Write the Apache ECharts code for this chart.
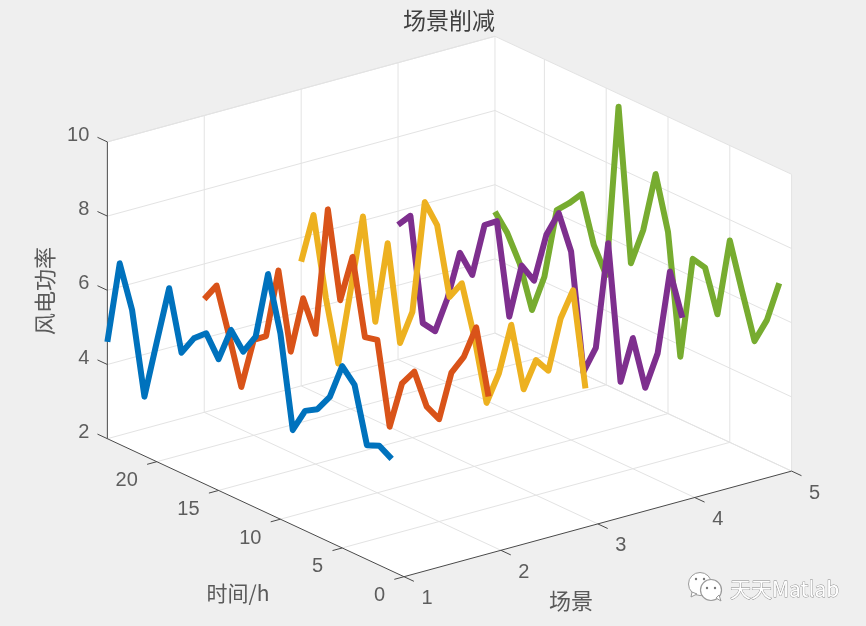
<!DOCTYPE html>
<html>
<head>
<meta charset="utf-8">
<style>html,body{margin:0;padding:0;background:#efefef}#c{width:866px;height:626px}</style>
<script src="https://cdn.jsdelivr.net/npm/echarts@6/dist/echarts.min.js"></script>
</head>
<body>
<div id="c"></div>
<script>
// ---------- data ----------
const chartTitle = '场景削减';
const sceneName = '场景';
const timeName = '时间/h';
const powerName = '风电功率';
const hours = [1,2,3,4,5,6,7,8,9,10,11,12,13,14,15,16,17,18,19,20,21,22,23,24];
const scene1 = [5.02,5.22,5.08,6.55,6.90,5.92,5.43,5.23,4.56,7.01,8.45,6.61,6.05,6.48,5.54,6.08,5.79,5.25,6.83,5.23,3.60,5.78,6.88,4.61];
const scene2 = [5.99,7.70,6.75,6.17,4.76,4.94,5.73,5.26,3.94,6.12,6.04,8.05,6.73,9.02,5.51,6.31,4.72,6.75,4.83,4.57,3.15,4.39,5.57,5.05];
const scene3 = [5.50,7.99,7.08,5.51,5.64,4.70,6.28,4.82,3.87,5.50,6.78,6.26,8.04,8.50,5.39,4.40,6.93,4.66,7.34,5.20,3.07,4.68,6.76,5.35];
const scene4 = [6.69,7.78,5.42,4.34,5.52,4.19,7.77,4.79,3.99,7.08,7.96,7.22,5.83,6.08,4.55,6.97,6.71,5.21,5.65,4.27,3.23,3.29,6.03,5.63];
const scene5 = [6.91,5.76,5.04,6.22,7.44,5.30,6.40,6.48,3.69,6.90,8.30,6.64,5.59,9.65,4.96,5.61,6.83,6.43,6.09,4.14,3.09,4.19,4.85,5.27];
const sceneTicks = [1,2,3,4,5];
const timeTicks = [0,5,10,15,20];
const powerTicks = [2,4,6,8,10];
const sceneSeries = [scene5, scene4, scene3, scene2, scene1];
const sceneIds = [5,4,3,2,1];
const sceneColors = ['#77AC30','#7E2F8E','#EDB120','#D95319','#0072BD'];

// ---------- orthographic view of the 3-D box ----------
const view = {ox:404, oy:576.7, sx:96.9, sy:-26.4, tx:-12.36, ty:-5.75, zy:-37.1};
const S0=1,S1=5,T0=0,T1=24,Z0=2,Z1=10;
const P = (s,t,z) => [
  view.ox + view.sx*(s-S0) + view.tx*(t-T0),
  view.oy + view.sy*(s-S0) + view.ty*(t-T0) + view.zy*(z-Z0)
];

const series = [];
const seg = (a,b,color,width) => series.push({
  type:'line', data:[a,b], showSymbol:false, silent:true, clip:false,
  lineStyle:{color, width, cap:'butt'}, animation:false
});

// white box faces
series.push({
  type:'custom', silent:true, clip:false, animation:false,
  data:[[0]],
  encode:{x:[],y:[]},
  renderItem:(p,api)=>({
    type:'polygon',
    shape:{points:[P(S0,T1,Z1),P(S1,T1,Z1),P(S1,T0,Z1),P(S1,T0,Z0),P(S0,T0,Z0),P(S0,T1,Z0)].map(q=>api.coord(q))},
    style:{fill:'#ffffff'}
  })
});

// grid
const GRID='#e3e3e3';
for (const s of sceneTicks){
  if (s>S0) seg(P(s,T0,Z0),P(s,T1,Z0),GRID,1);
  if (s>S0) seg(P(s,T1,Z0),P(s,T1,Z1),GRID,1);
}
for (const t of timeTicks){
  if (t>T0) seg(P(S0,t,Z0),P(S1,t,Z0),GRID,1);
  seg(P(S1,t,Z0),P(S1,t,Z1),GRID,1);
}
for (const z of powerTicks){
  if (z>Z0) seg(P(S0,T1,z),P(S1,T1,z),GRID,1);
  seg(P(S1,T1,z),P(S1,T0,z),GRID,1);
}
seg(P(S0,T1,Z1),P(S1,T1,Z1),GRID,1);
seg(P(S1,T1,Z0),P(S0,T1,Z0),GRID,1);

// axes and ticks
const AX='#4a4a4a';
seg(P(S0,T0,Z0),P(S1,T0,Z0),AX,1);
seg(P(S0,T0,Z0),P(S0,T1,Z0),AX,1);
seg(P(S0,T1,Z0),P(S0,T1,Z1),AX,1);
for (const s of sceneTicks) seg(P(s,T0,Z0),P(s,T0-0.8,Z0),AX,1);
for (const t of timeTicks) seg(P(S0,t,Z0),P(S0-0.1,t,Z0),AX,1);
for (const z of powerTicks) seg(P(S0,T1,z),P(S0,T1+0.8,z),AX,1);

// data lines, far scene first so nearer ones cover them
sceneSeries.forEach((vals,i)=>{
  series.push({
    type:'line', name:'场景'+sceneIds[i], showSymbol:false, silent:true, clip:false, animation:false,
    data:hours.map((t,k)=>P(sceneIds[i],t,vals[k])),
    lineStyle:{color:sceneColors[i], width:6, cap:'butt', join:'round'}
  });
});

// tick labels
const tickLabels = (pts,texts,align,offset) => series.push({
  type:'scatter', symbolSize:0, silent:true, clip:false, animation:false,
  data:pts.map((p,i)=>({value:p,label:{formatter:String(texts[i])}})),
  label:{show:true, position:'inside', align, verticalAlign:'middle', offset,
    color:'#383838', fontFamily:'"Liberation Sans",Arial,sans-serif', fontSize:20}
});
tickLabels(powerTicks.map(z=>P(S0,T1,z)),powerTicks,'right',[-18,-6.5]);
tickLabels(timeTicks.map(t=>P(S0,t,Z0)),timeTicks,'right',[-19,19]);
tickLabels(sceneTicks.map(s=>P(s,T0,Z0)),sceneTicks,'center',[23,22]);

const CJK='"Noto Sans CJK SC","Liberation Sans",sans-serif';
const option = {
  backgroundColor:'#efefef',
  animation:false,
  grid:{left:0,right:0,top:0,bottom:0},
  xAxis:{type:'value',min:0,max:866,show:false},
  yAxis:{type:'value',min:0,max:626,inverse:true,show:false},
  series,
  graphic:[
    {type:'text',x:449,y:20,style:{text:chartTitle,fill:'#404040',font:'23px '+CJK,textAlign:'center',textVerticalAlign:'middle'}},
    {type:'text',x:571,y:601,style:{text:sceneName,fill:'#5a5a5a',font:'22px '+CJK,textAlign:'center',textVerticalAlign:'middle'}},
    {type:'text',x:238,y:593,style:{text:timeName,fill:'#5a5a5a',font:'21px '+CJK,textAlign:'center',textVerticalAlign:'middle'}},
    {type:'text',x:45,y:291,rotation:Math.PI/2,style:{text:powerName,fill:'#5a5a5a',font:'22px '+CJK,textAlign:'center',textVerticalAlign:'middle'}},
    // watermark
    {type:'text',x:730,y:589,style:{text:'天天Matlab',fill:'#ffffff',stroke:'#8a8a8a',lineWidth:0.8,font:'21px '+CJK,textAlign:'left',textVerticalAlign:'middle'}},
    {type:'circle',shape:{cx:700,cy:584,r:11.5},style:{fill:'#fff',stroke:'#9a9a9a',lineWidth:1}},
    {type:'polygon',shape:{points:[[692,592],[691,597],[697,594]]},style:{fill:'#fff',stroke:'#9a9a9a',lineWidth:1}},
    {type:'circle',shape:{cx:711,cy:590,r:10.5},style:{fill:'#fff',stroke:'#9a9a9a',lineWidth:1.2}},
    {type:'polygon',shape:{points:[[716,598],[721,601],[719,595]]},style:{fill:'#fff',stroke:'#9a9a9a',lineWidth:1}},
    {type:'circle',shape:{cx:696,cy:579,r:1.2},style:{fill:'#777'}},
    {type:'circle',shape:{cx:704,cy:579,r:1.2},style:{fill:'#777'}},
    {type:'circle',shape:{cx:707,cy:588,r:1.2},style:{fill:'#777'}},
    {type:'circle',shape:{cx:715,cy:588,r:1.2},style:{fill:'#777'}}
  ]
};
echarts.init(document.getElementById('c'),null,{renderer:'canvas'}).setOption(option);
</script>
</body>
</html>
